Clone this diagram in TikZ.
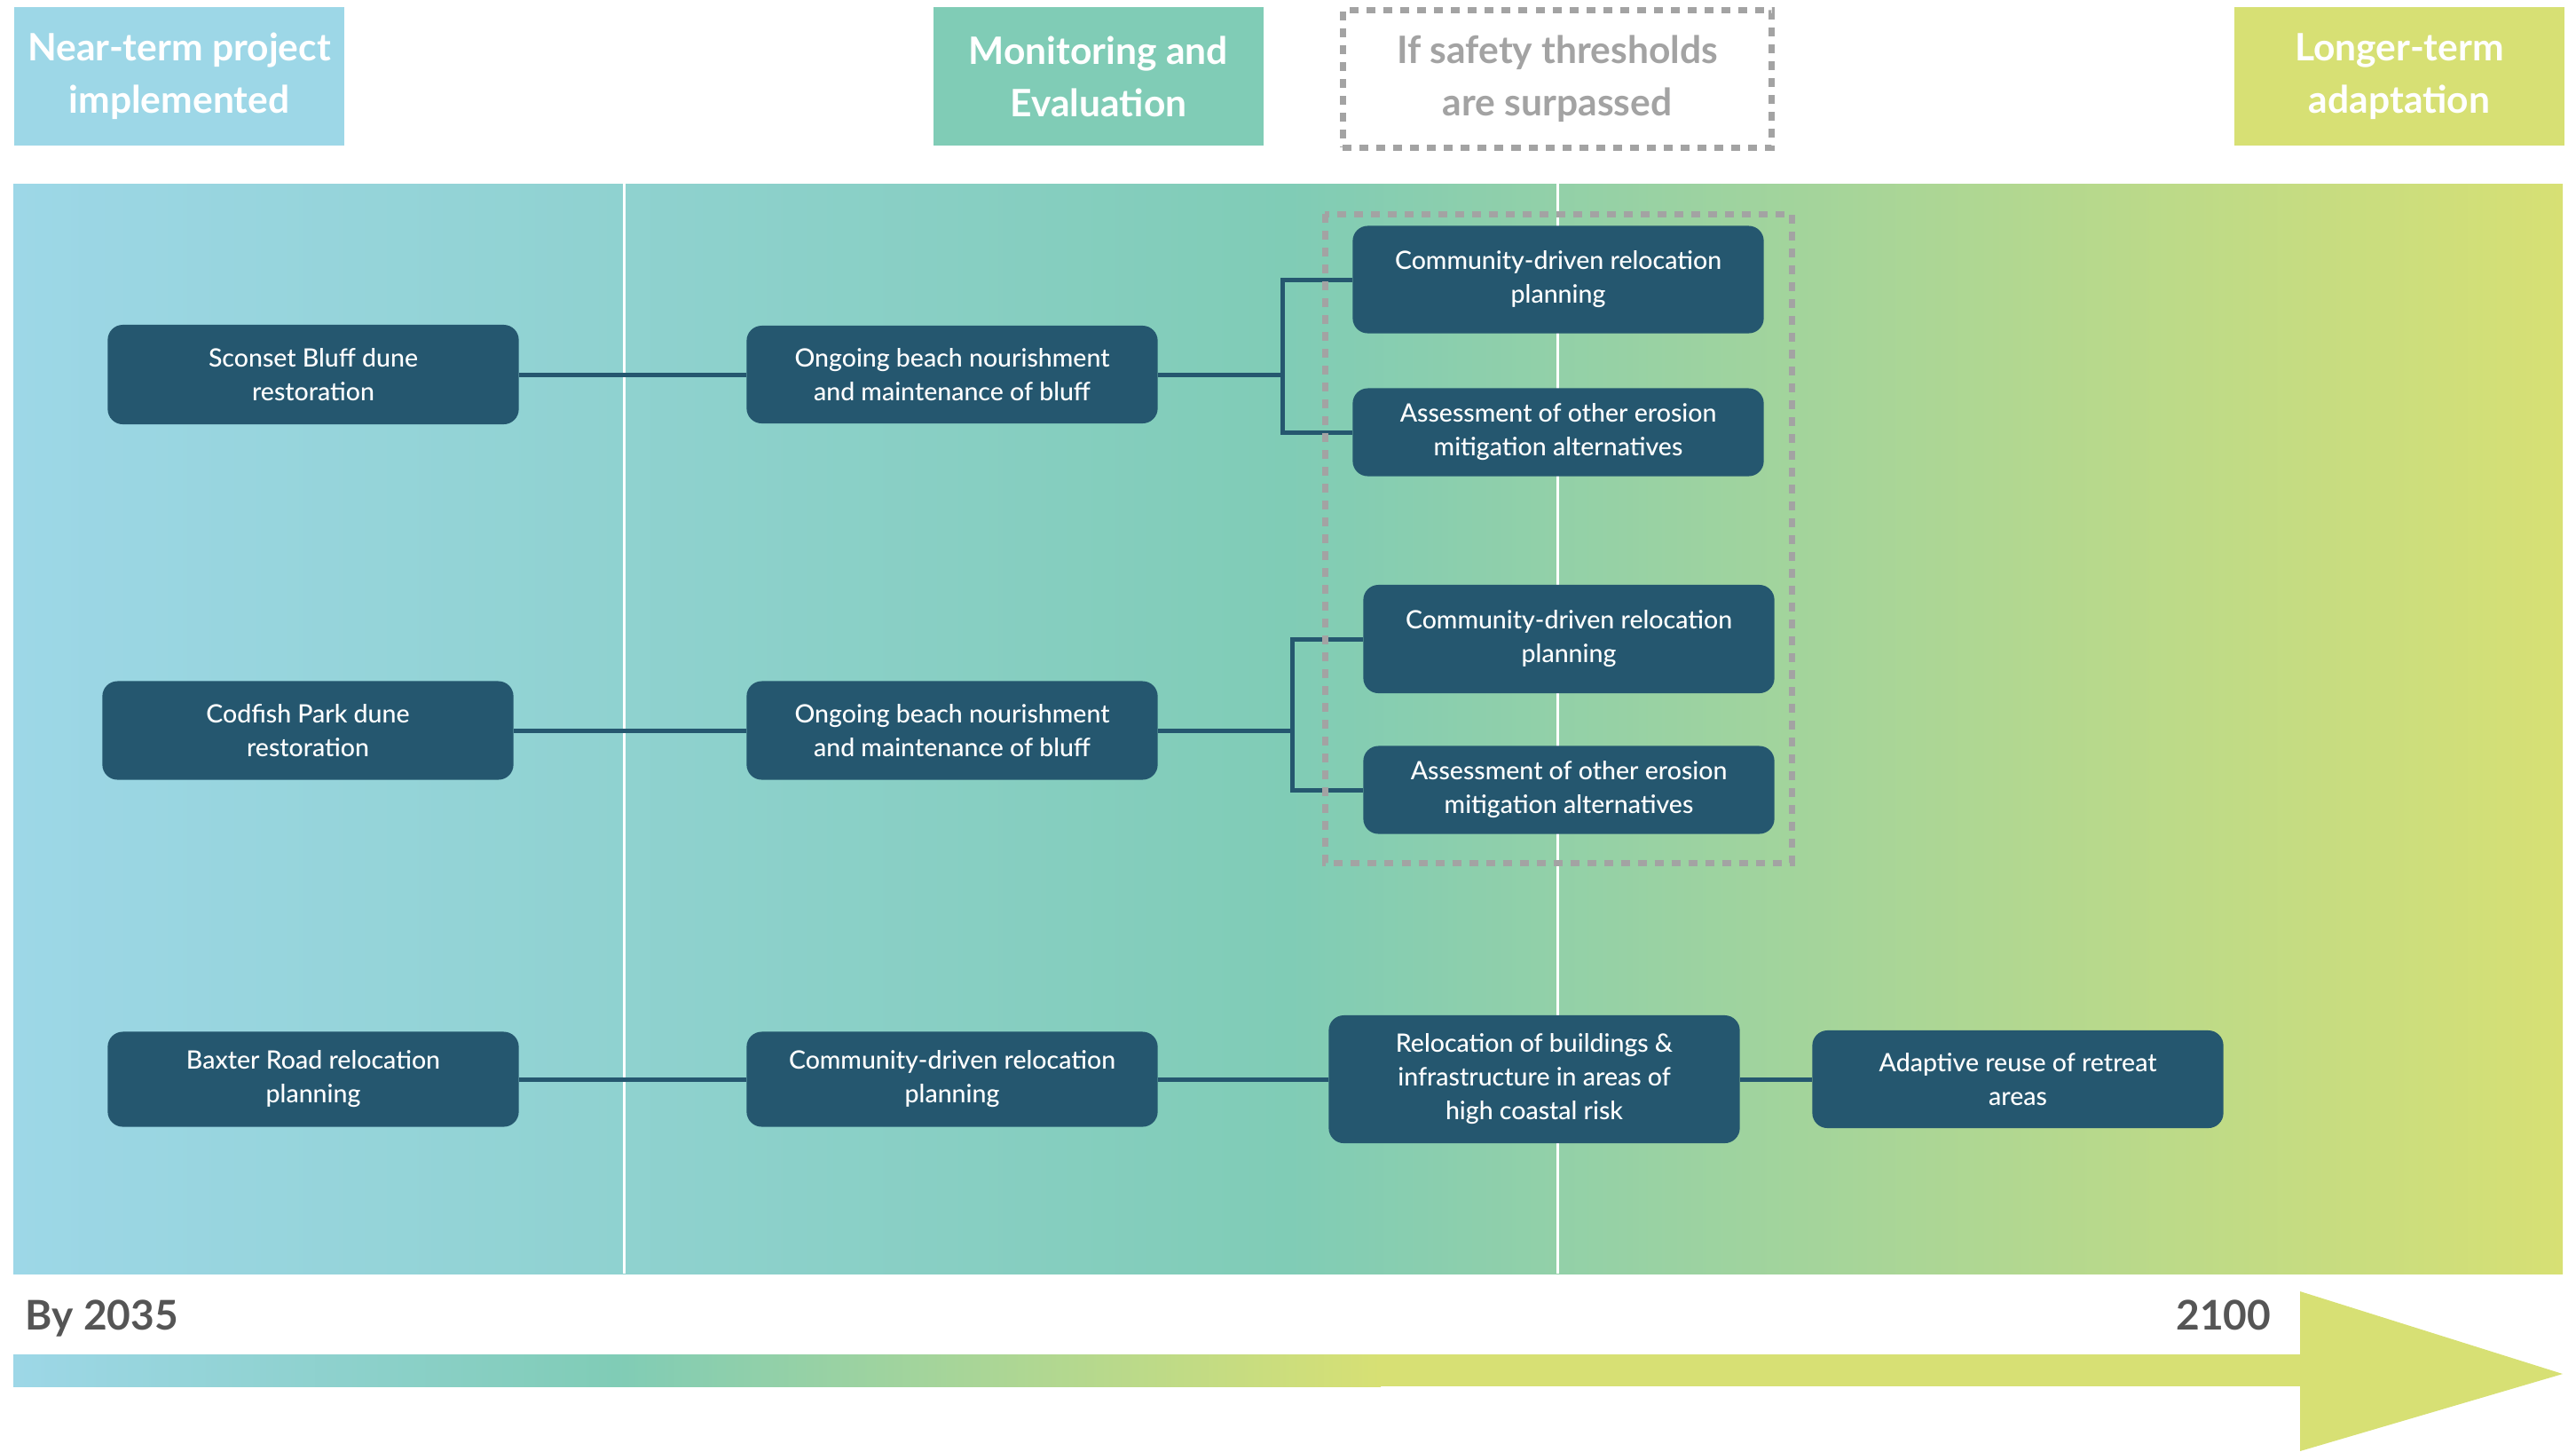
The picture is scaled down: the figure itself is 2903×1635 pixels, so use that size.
\documentclass[tikz,border=0pt]{standalone}
\usepackage{fontspec}
\setmainfont{Lato}
\IfFontExistsTF{Lato Medium}{\newfontfamily\boxfont{Lato Medium}}{\newfontfamily\boxfont{Lato}[FakeBold=0.4]}
\usepackage{xcolor}
\usepackage{tikz}
\usetikzlibrary{arrows.meta,positioning,calc}
\definecolor{skyb}{HTML}{9DD7E7}
\definecolor{seag}{HTML}{80CCB6}
\definecolor{limeg}{HTML}{D7E074}
\definecolor{boxc}{HTML}{25576F}
\definecolor{dgrey}{HTML}{A3A3A3}
\definecolor{tgrey}{HTML}{555555}

\begin{document}
\begin{tikzpicture}[x=0.01cm,y=-0.01cm,
  bx/.style={rectangle,rounded corners=0.17cm,fill=boxc,text=white,align=center,
    minimum width=4.63cm,inner sep=0pt,font=\boxfont\fontsize{8.1}{10.8}\selectfont},
  hdr/.style={rectangle,align=center,text=white,minimum width=3.71cm,minimum height=1.55cm,
    inner sep=0pt,font=\bfseries\fontsize{12.1}{16.8}\selectfont},
  lk/.style={line width=0.05cm,boxc},
  dsh/.style={dgrey,line width=0.07cm,dash pattern=on 0.1cm off 0.09cm},
  yr/.style={font=\bfseries\fontsize{13.1}{16}\selectfont,text=tgrey,inner sep=0pt}
]
\useasboundingbox (0,0) rectangle (2903,1635);
%--- background band and time marks ---
\shade[left color=skyb,right color=limeg,middle color=seag] (15,207) rectangle (2888,1435);
\draw[white,line width=0.03cm] (703,207) -- (703,1435);
\draw[white,line width=0.03cm] (1755,207) -- (1755,1435);
%--- headers ---
\node[hdr,fill=skyb] (near) at (202,86) {Near-term project\\implemented};
\node[hdr,fill=seag] (mon) at (1238,86) {Monitoring and\\Evaluation};
\node[hdr,draw=dgrey,line width=0.07cm,dash pattern=on 0.1cm off 0.09cm,text=dgrey,
  minimum width=4.83cm,minimum height=1.54cm] (thr) at (1755,89) {If safety thresholds\\are surpassed};
\node[hdr,fill=limeg] (long) at (2704,86) {Longer-term\\adaptation};
%--- row 1: Sconset ---
\node[bx,minimum height=1.12cm] (scon) at (353,422) {Sconset Bluff dune\\restoration};
\node[bx,minimum height=1.10cm] (ong1) at (1073,422) {Ongoing beach nourishment\\and maintenance of bluff};
\node[bx,minimum height=1.21cm] (cdr1) at (1756,315) {Community-driven relocation\\planning};
\node[bx,minimum height=0.99cm] (aoe1) at (1756,487) {Assessment of other erosion\\mitigation alternatives};
\draw[lk] (scon) -- (ong1);
\draw[lk] (ong1.east) -- ++(140,0) |- (cdr1.west);
\draw[lk] (ong1.east) -- ++(140,0) |- (aoe1.west);
%--- row 2: Codfish ---
\node[bx,minimum height=1.11cm] (cod) at (347,823) {Codfish Park dune\\restoration};
\node[bx,minimum height=1.11cm] (ong2) at (1073,823) {Ongoing beach nourishment\\and maintenance of bluff};
\node[bx,minimum height=1.22cm] (cdr2) at (1768,720) {Community-driven relocation\\planning};
\node[bx,minimum height=0.99cm] (aoe2) at (1768,890) {Assessment of other erosion\\mitigation alternatives};
\draw[lk] (cod) -- (ong2);
\draw[lk] (ong2.east) -- ++(151,0) |- (cdr2.west);
\draw[lk] (ong2.east) -- ++(151,0) |- (aoe2.west);
\draw[dsh] (1493,241) rectangle (2019,972);
%--- row 3: Baxter ---
\node[bx,minimum height=1.07cm] (bax) at (353,1216) {Baxter Road relocation\\planning};
\node[bx,minimum height=1.07cm] (cdr3) at (1073,1216) {Community-driven relocation\\planning};
\node[bx,minimum height=1.44cm] (reloc) at (1729,1216) {Relocation of buildings \&\\infrastructure in areas of\\high coastal risk};
\node[bx,minimum height=1.10cm] (reuse) at (2274,1216) {Adaptive reuse of retreat\\areas};
\draw[lk] (bax) -- (cdr3);
\draw[lk] (cdr3) -- (reloc);
\draw[lk] (reloc) -- (reuse);
%--- timeline arrow ---
\node[yr,anchor=base west] (y0) at (28,1498) {By 2035};
\node[yr,anchor=base east] (y1) at (2560,1498) {2100};
\shade[left color=skyb,right color=seag] (15,1526) rectangle (695,1562);
\shade[left color=seag,right color=limeg] (694,1526) rectangle (1556,1562);
\fill[limeg] (1555,1526) rectangle (2593,1562);
\fill[limeg] (2592,1455) -- (2888,1548) -- (2592,1635) -- cycle;
\end{tikzpicture}
\end{document}
